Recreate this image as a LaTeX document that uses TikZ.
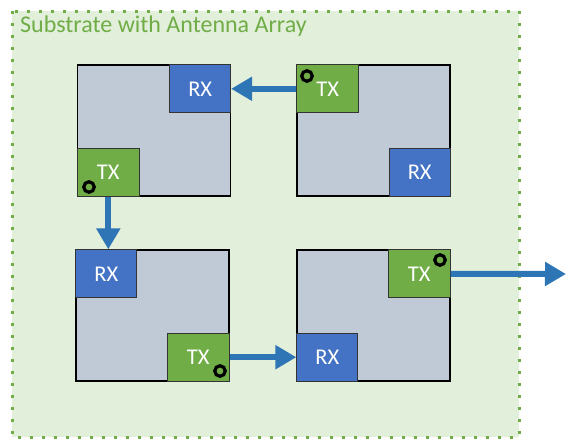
\documentclass[tikz,border=0pt]{standalone}
\usepackage{fontspec}
\setmainfont{Carlito}
\usetikzlibrary{arrows.meta}

\definecolor{subfill}{RGB}{226,239,218}
\definecolor{subline}{RGB}{112,173,71}
\definecolor{chipfill}{RGB}{192,202,214}
\definecolor{rxblue}{RGB}{68,114,196}
\definecolor{txgreen}{RGB}{112,173,71}
\definecolor{linkblue}{RGB}{46,117,182}

\tikzset{
	chip/.style={draw=black, fill=chipfill, line width=1.3pt, inner sep=0pt, minimum width=153pt, minimum height=131pt},
	rx/.style={draw=black!80, fill=rxblue, line width=0.9pt, text=white, inner sep=0pt, minimum width=61pt, minimum height=48pt, font=\fontsize{22.5}{22.5}\selectfont},
	tx/.style={draw=black!80, fill=txgreen, line width=0.9pt, text=white, inner sep=0pt, minimum width=62pt, minimum height=48pt, font=\fontsize{22.5}{22.5}\selectfont},
	ant/.style={circle, draw=black, line width=3.2pt, inner sep=0pt, minimum size=10.5pt},
	link/.style={draw=linkblue, line width=6pt, -{Triangle[width=23pt,length=21pt]}}
}

\begin{document}
\begin{tikzpicture}[x=1pt, y=-1pt]
		\useasboundingbox (0,0) rectangle (566,440);
		% substrate
		\draw[fill=subfill, draw=subline, line width=3pt, dash pattern=on 3pt off 9pt] (12,11) rectangle (519,437);
		\node[anchor=base west, text=subline, inner sep=0pt, font=\fontsize{24}{24}\selectfont] (title) at (20,32) {Substrate with Antenna Array};
		
		% chips
		\node[chip] (c1) at (154,130.5) {};
		\node[chip] (c2) at (373.5,130.5) {};
		\node[chip] (c3) at (152.5,315.5) {};
		\node[chip] (c4) at (373.5,315.5) {};
		
		\node[rx, anchor=north east] (rx1) at (c1.north east) {RX};
		\node[tx, anchor=south west] (tx1) at (c1.south west) {TX};
		\node[tx, anchor=north west] (tx2) at (c2.north west) {TX};
		\node[rx, anchor=south east] (rx2) at (c2.south east) {RX};
		\node[rx, anchor=north west] (rx3) at (c3.north west) {RX};
		\node[tx, anchor=south east] (tx3) at (c3.south east) {TX};
		\node[tx, anchor=north east] (tx4) at (c4.north east) {TX};
		\node[rx, anchor=south west] (rx4) at (c4.south west) {RX};
		
		% antenna ports
		\node[ant] (a1) at (89,187) {};
		\node[ant] (a2) at (307,76) {};
		\node[ant] (a3) at (220,371) {};
		\node[ant] (a4) at (440,260) {};
		
		% links
		\coordinate (out) at (566,274);
		\draw[link] (tx2.west) -- (rx1.east);
		\draw[link] (tx1.south) -- (tx1.south |- rx3.north);
		\draw[link] (tx3.east) -- (tx3.east -| rx4.west);
		\draw[link] (tx4.east) -- (out);
		
		\end{tikzpicture}
\end{document}
